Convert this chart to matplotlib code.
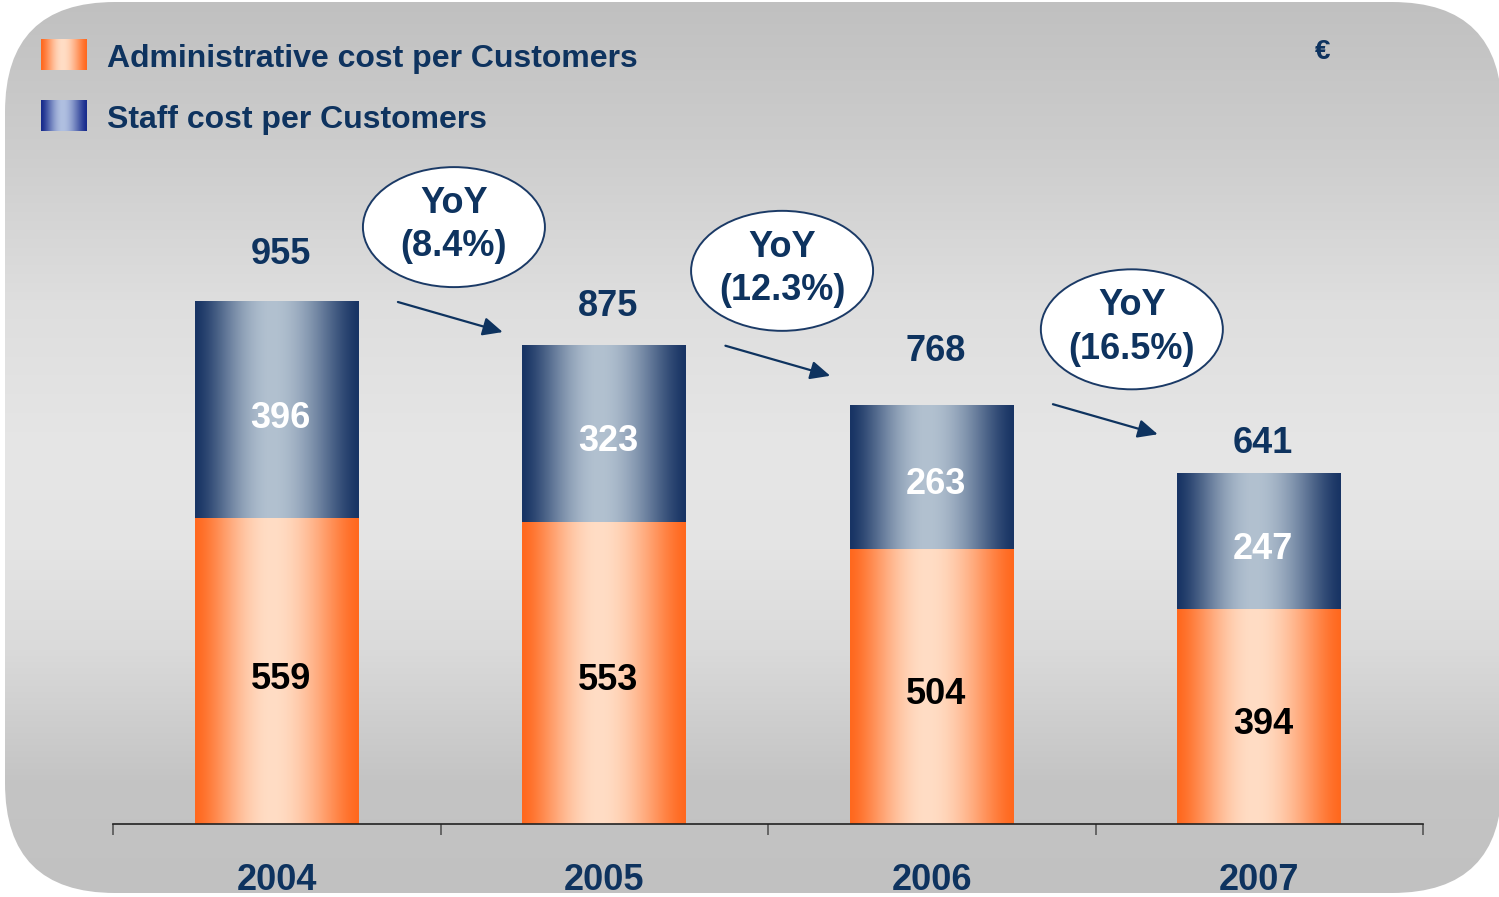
import numpy as np
import matplotlib
matplotlib.use('Agg')
import matplotlib.pyplot as plt
from matplotlib.patches import FancyBboxPatch, Ellipse, FancyArrowPatch

# ---------------- data ----------------
years = ['2004', '2005', '2006', '2007']
admin_cost = [559, 553, 504, 394]
staff_cost = [396, 323, 263, 247]
totals = [955, 875, 768, 641]
yoy_labels = ['YoY\n(8.4%)', 'YoY\n(12.3%)', 'YoY\n(16.5%)']
series_names = ['Administrative cost per Customers', 'Staff cost per Customers']
unit_label = '€'

# ---------------- style ----------------
plt.rcParams['font.family'] = ['Liberation Sans', 'DejaVu Sans']
NAVY = '#0e335f'
W, H = 1499, 897
ORANGE_EDGE = np.array([255, 104, 30]) / 255
ORANGE_MID = np.array([255, 221, 197]) / 255
BLUE_EDGE = np.array([24, 52, 100]) / 255
BLUE_MID = np.array([178, 193, 208]) / 255
LEG_BLUE_EDGE = np.array([22, 42, 140]) / 255
LEG_BLUE_MID = np.array([176, 192, 225]) / 255
total_gap_px = [38, 30, 43, 21]


def grad_row(edge, mid, n=200, peak=0.47):
    t = np.linspace(0, 1, n)
    f = np.where(t < peak, t / peak, (1 - t) / (1 - peak))
    f = np.sin(f * np.pi / 2) ** 1.4
    rgb = edge[None, :] + (mid - edge)[None, :] * f[:, None]
    return rgb[None, :, :]


fig = plt.figure(figsize=(W / 100, H / 100), dpi=100)
fig.patch.set_facecolor('white')

# background panel (pixel coordinates)
bg = fig.add_axes([0, 0, 1, 1], zorder=0)
bg.set_xlim(0, W)
bg.set_ylim(H, 0)
bg.axis('off')
ys = np.array([0, 150, 300, 450, 550, 650, 780, 897])
vs = np.array([192, 205, 222, 230, 228, 218, 196, 193]) / 255
col = np.interp(np.arange(H), ys, vs)
img = np.repeat(col[:, None], 2, axis=1)
im = bg.imshow(np.dstack([img, img, img]), extent=[0, W, H, 0], aspect='auto',
               interpolation='bilinear', zorder=0)
box = FancyBboxPatch((5, 2), 1497, 891, boxstyle='round,pad=0,rounding_size=110',
                     facecolor='none', edgecolor='none', transform=bg.transData)
bg.add_patch(box)
im.set_clip_path(box)

# legend
bg.imshow(grad_row(ORANGE_EDGE, ORANGE_MID), extent=[41, 87, 70, 39], aspect='auto', zorder=2)
bg.imshow(grad_row(LEG_BLUE_EDGE, LEG_BLUE_MID), extent=[41, 87, 131, 100], aspect='auto', zorder=2)
bg.text(107, 67, series_names[0], fontsize=23, fontweight='bold', color=NAVY, va='baseline', ha='left')
bg.text(107, 128, series_names[1], fontsize=23, fontweight='bold', color=NAVY, va='baseline', ha='left')
bg.text(1323, 52, unit_label, fontsize=20, fontweight='bold', color=NAVY, va='center', ha='center')
bg.set_xlim(0, W)
bg.set_ylim(H, 0)

# main chart
base_px = 824
px_per_unit = 0.5466
ax = fig.add_axes([113 / W, (H - base_px) / H, 1310 / W, base_px / H], zorder=1)
ax.patch.set_alpha(0)
x = np.arange(len(years))
bw = 164 / 327.5
b1 = ax.bar(x, admin_cost, width=bw, color='none')
b2 = ax.bar(x, staff_cost, width=bw, bottom=admin_cost, color='none')
for bars, edge, mid in ((b1, ORANGE_EDGE, ORANGE_MID), (b2, BLUE_EDGE, BLUE_MID)):
    for p in bars:
        bb = p.get_bbox()
        ax.imshow(grad_row(edge, mid), extent=[bb.x0, bb.x1, bb.y0, bb.y1],
                  aspect='auto', zorder=2, interpolation='bilinear')

ax.set_xlim(-0.5, 3.5)
ax.set_ylim(0, base_px / px_per_unit)
for s in ('top', 'left', 'right'):
    ax.spines[s].set_visible(False)
ax.spines['bottom'].set_color('#222222')
ax.spines['bottom'].set_linewidth(1.2)
ax.set_yticks([])
ax.set_xticks(x)
ax.set_xticklabels(years)
ax.tick_params(axis='x', which='major', length=0, pad=28, labelsize=26, labelcolor=NAVY)
for lbl in ax.get_xticklabels():
    lbl.set_fontweight('bold')
ax.set_xticks(np.arange(-0.5, 4, 1), minor=True)
ax.tick_params(axis='x', which='minor', length=8, width=1.2, color='#555555', direction='out')

dx = 4 / 327.5
for i in range(len(years)):
    ax.annotate(str(admin_cost[i]), (x[i] + dx, admin_cost[i] / 2), xytext=(0, -12.6),
                textcoords='offset points', ha='center', va='baseline', fontsize=26,
                fontweight='bold', color='black', zorder=4)
    ax.annotate(str(staff_cost[i]), (x[i] + dx, admin_cost[i] + staff_cost[i] / 2), xytext=(0, -12.6),
                textcoords='offset points', ha='center', va='baseline', fontsize=26,
                fontweight='bold', color='white', zorder=4)
    ax.annotate(str(totals[i]), (x[i] + dx, totals[i]), xytext=(0, total_gap_px[i] * 0.72),
                textcoords='offset points', ha='center', va='baseline', fontsize=26,
                fontweight='bold', color=NAVY, zorder=4)

# YoY bubbles and arrows
ell_dx = [0.541, 0.543, 0.611]
for i, lab in enumerate(yoy_labels):
    cx = i + ell_dx[i]
    cy = totals[i] + 137
    e = Ellipse((cx, cy), 182 / 327.5, 120 / px_per_unit, facecolor='white',
                edgecolor='#1b3a66', lw=1.4, zorder=5)
    ax.add_patch(e)
    ax.text(cx, cy + 2 / px_per_unit, lab, ha='center', va='center', fontsize=26,
            fontweight='bold', color=NAVY, linespacing=1.32, zorder=6)
    arr = FancyArrowPatch((i + 0.37, totals[i]), (i + 0.69, totals[i] - 55),
                          arrowstyle='-|>,head_length=0.6,head_width=0.28', mutation_scale=20,
                          lw=1.6, color=NAVY, shrinkA=0, shrinkB=0, zorder=5)
    ax.add_patch(arr)

fig.savefig('out.png', dpi=100, facecolor='white')
